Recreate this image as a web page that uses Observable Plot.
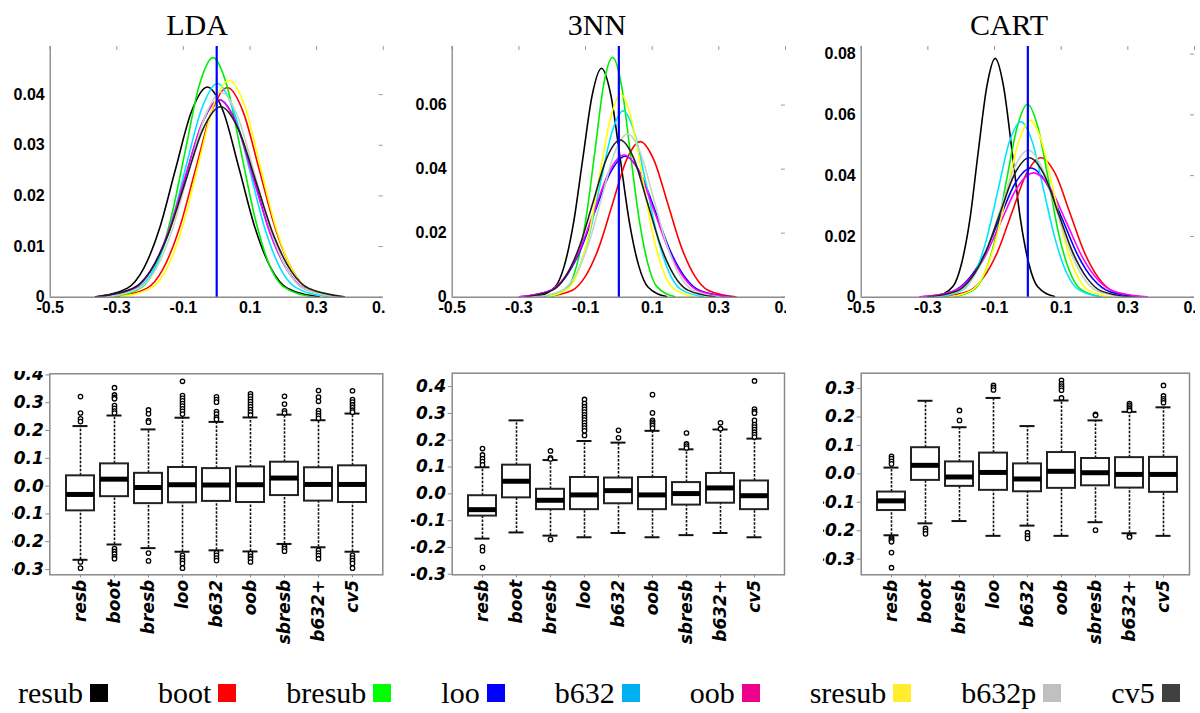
<!DOCTYPE html>
<html><head><meta charset="utf-8">
<script src="https://cdn.jsdelivr.net/npm/d3@7"></script>
<script src="https://cdn.jsdelivr.net/npm/@observablehq/plot@0.6"></script>
<style>
body{margin:0;background:#fff;}
#root{position:relative;width:1200px;height:713px;overflow:hidden;background:#fff;}
.panel{position:absolute;overflow:hidden;}
.title{position:absolute;top:10px;font-family:"Liberation Serif","Times New Roman",serif;font-size:30px;line-height:30px;transform:translateX(-50%);white-space:nowrap;color:#000;}
#legend{position:absolute;left:18px;top:677px;display:flex;align-items:center;font-family:"Liberation Serif","Times New Roman",serif;font-size:30px;line-height:32px;color:#000;}
.item{display:flex;align-items:center;margin-right:50px;}
.sw{width:18px;height:18px;margin-left:7px;display:inline-block;}
</style></head>
<body><div id="root"></div>
<script>
// ---------- categories ----------
const methods = ["LDA","3NN","CART"];
const estimators = ["resub","boot","bresub","loo","b632","oob","sresub","b632p","cv5"];
const boxLabels = ["resb","boot","bresb","loo","b632","oob","sbresb","b632+","cv5"];
const curveColors = ["#000000","#ff0000","#00ee00","#0000ff","#00e5ff","#ff00ff","#ffff00","#c5d5c5","#1e1e1e"];
const legendColors = ["#000000","#ff0000","#00ff00","#0000ff","#00b0f0","#ec008c","#ffed2e","#c0c0c0","#404040"];

// ---------- density curves (x = deviation, y = density) ----------
const ldaX = {
  resub:[-0.364,-0.268,-0.220,-0.172,-0.124,-0.076,-0.028,0.020,0.068,0.116,0.164,0.212,0.308],
  boot:[-0.305,-0.209,-0.161,-0.113,-0.064,-0.016,0.032,0.080,0.128,0.177,0.225,0.273,0.369],
  bresub:[-0.306,-0.222,-0.180,-0.138,-0.095,-0.053,-0.011,0.031,0.073,0.116,0.158,0.200,0.284],
  loo:[-0.350,-0.248,-0.197,-0.145,-0.094,-0.043,0.008,0.059,0.110,0.161,0.213,0.264,0.366],
  b632:[-0.329,-0.234,-0.187,-0.140,-0.093,-0.045,0.002,0.049,0.097,0.144,0.191,0.238,0.333],
  oob:[-0.351,-0.249,-0.198,-0.146,-0.095,-0.044,0.007,0.058,0.109,0.160,0.212,0.263,0.365],
  sresub:[-0.289,-0.196,-0.149,-0.103,-0.056,-0.010,0.037,0.084,0.130,0.177,0.223,0.270,0.363],
  b632p:[-0.331,-0.232,-0.183,-0.134,-0.085,-0.035,0.014,0.063,0.113,0.162,0.211,0.260,0.359],
  cv5:[-0.359,-0.253,-0.200,-0.147,-0.094,-0.041,0.012,0.065,0.118,0.171,0.224,0.277,0.383]
};
const ldaY = {
  resub:[0.0001,0.0018,0.0056,0.0135,0.0252,0.0366,0.0415,0.0366,0.0252,0.0135,0.0056,0.0018,0.0001],
  boot:[0.0001,0.0018,0.0056,0.0134,0.0251,0.0365,0.0414,0.0365,0.0251,0.0134,0.0056,0.0018,0.0001],
  bresub:[0.0001,0.0021,0.0064,0.0154,0.0287,0.0417,0.0473,0.0417,0.0287,0.0154,0.0064,0.0021,0.0001],
  loo:[0.0001,0.0017,0.0053,0.0127,0.0237,0.0344,0.0390,0.0344,0.0237,0.0127,0.0053,0.0017,0.0001],
  b632:[0.0001,0.0019,0.0057,0.0137,0.0256,0.0372,0.0422,0.0372,0.0256,0.0137,0.0057,0.0019,0.0001],
  oob:[0.0001,0.0017,0.0053,0.0127,0.0237,0.0344,0.0390,0.0344,0.0237,0.0127,0.0053,0.0017,0.0001],
  sresub:[0.0001,0.0019,0.0058,0.0139,0.0260,0.0378,0.0428,0.0378,0.0260,0.0139,0.0058,0.0019,0.0001],
  b632p:[0.0001,0.0018,0.0055,0.0132,0.0246,0.0357,0.0405,0.0357,0.0246,0.0132,0.0055,0.0018,0.0001],
  cv5:[0.0001,0.0017,0.0051,0.0122,0.0228,0.0332,0.0376,0.0332,0.0228,0.0122,0.0051,0.0017,0.0001]
};
const nnX = {
  resub:[-0.247,-0.192,-0.164,-0.136,-0.108,-0.080,-0.052,-0.024,0.004,0.032,0.060,0.088,0.143],
  boot:[-0.223,-0.141,-0.100,-0.059,-0.018,0.023,0.064,0.105,0.146,0.187,0.228,0.269,0.351],
  bresub:[-0.205,-0.152,-0.126,-0.099,-0.072,-0.046,-0.019,0.008,0.034,0.061,0.088,0.114,0.167],
  loo:[-0.298,-0.208,-0.162,-0.117,-0.072,-0.026,0.019,0.064,0.110,0.155,0.200,0.246,0.336],
  b632:[-0.227,-0.158,-0.124,-0.090,-0.056,-0.021,0.013,0.047,0.082,0.116,0.150,0.184,0.253],
  oob:[-0.298,-0.209,-0.164,-0.119,-0.074,-0.029,0.016,0.061,0.106,0.151,0.196,0.241,0.330],
  sresub:[-0.214,-0.151,-0.120,-0.088,-0.057,-0.025,0.006,0.037,0.069,0.100,0.132,0.163,0.226],
  b632p:[-0.248,-0.170,-0.130,-0.091,-0.052,-0.013,0.026,0.065,0.104,0.143,0.182,0.222,0.300],
  cv5:[-0.280,-0.199,-0.159,-0.118,-0.077,-0.037,0.004,0.045,0.085,0.126,0.167,0.207,0.288]
};
const nnY = {
  resub:[0.0002,0.0031,0.0097,0.0232,0.0434,0.0631,0.0715,0.0631,0.0434,0.0232,0.0097,0.0031,0.0002],
  boot:[0.0001,0.0021,0.0066,0.0158,0.0295,0.0429,0.0486,0.0429,0.0295,0.0158,0.0066,0.0021,0.0001],
  bresub:[0.0002,0.0033,0.0101,0.0243,0.0454,0.0661,0.0749,0.0661,0.0454,0.0243,0.0101,0.0033,0.0002],
  loo:[0.0001,0.0019,0.0060,0.0143,0.0267,0.0388,0.0440,0.0388,0.0267,0.0143,0.0060,0.0019,0.0001],
  b632:[0.0001,0.0026,0.0079,0.0189,0.0353,0.0514,0.0582,0.0514,0.0353,0.0189,0.0079,0.0026,0.0001],
  oob:[0.0001,0.0019,0.0060,0.0144,0.0269,0.0392,0.0444,0.0392,0.0269,0.0144,0.0060,0.0019,0.0001],
  sresub:[0.0001,0.0028,0.0086,0.0206,0.0385,0.0560,0.0634,0.0560,0.0385,0.0206,0.0086,0.0028,0.0001],
  b632p:[0.0001,0.0022,0.0069,0.0166,0.0309,0.0450,0.0510,0.0450,0.0309,0.0166,0.0069,0.0022,0.0001],
  cv5:[0.0001,0.0022,0.0066,0.0159,0.0298,0.0433,0.0491,0.0433,0.0298,0.0159,0.0066,0.0022,0.0001]
};
const cartX = {
  resub:[-0.276,-0.225,-0.200,-0.174,-0.149,-0.123,-0.098,-0.073,-0.047,-0.022,0.004,0.029,0.080],
  boot:[-0.265,-0.178,-0.135,-0.091,-0.048,-0.005,0.039,0.083,0.126,0.169,0.213,0.256,0.343],
  bresub:[-0.221,-0.158,-0.127,-0.095,-0.064,-0.032,-0.001,0.030,0.062,0.093,0.125,0.156,0.219],
  loo:[-0.320,-0.226,-0.179,-0.132,-0.085,-0.038,0.009,0.056,0.103,0.150,0.197,0.244,0.338],
  b632:[-0.263,-0.194,-0.159,-0.125,-0.090,-0.056,-0.021,0.014,0.048,0.083,0.117,0.152,0.221],
  oob:[-0.324,-0.227,-0.178,-0.129,-0.081,-0.032,0.017,0.066,0.115,0.163,0.212,0.261,0.358],
  sresub:[-0.233,-0.164,-0.130,-0.096,-0.062,-0.027,0.007,0.041,0.076,0.110,0.144,0.178,0.247],
  b632p:[-0.287,-0.205,-0.164,-0.123,-0.081,-0.040,0.001,0.042,0.083,0.125,0.166,0.207,0.289],
  cv5:[-0.300,-0.213,-0.170,-0.126,-0.083,-0.040,0.004,0.048,0.091,0.134,0.178,0.221,0.308]
};
const cartY = {
  resub:[0.0002,0.0035,0.0106,0.0255,0.0477,0.0694,0.0786,0.0694,0.0477,0.0255,0.0106,0.0035,0.0002],
  boot:[0.0001,0.0020,0.0062,0.0149,0.0278,0.0405,0.0459,0.0405,0.0278,0.0149,0.0062,0.0020,0.0001],
  bresub:[0.0001,0.0028,0.0086,0.0206,0.0385,0.0560,0.0635,0.0560,0.0385,0.0206,0.0086,0.0028,0.0001],
  loo:[0.0001,0.0019,0.0058,0.0138,0.0258,0.0375,0.0425,0.0375,0.0258,0.0138,0.0058,0.0019,0.0001],
  b632:[0.0001,0.0025,0.0078,0.0187,0.0350,0.0509,0.0577,0.0509,0.0350,0.0187,0.0078,0.0025,0.0001],
  oob:[0.0001,0.0018,0.0055,0.0133,0.0248,0.0361,0.0409,0.0361,0.0248,0.0133,0.0055,0.0018,0.0001],
  sresub:[0.0001,0.0026,0.0079,0.0189,0.0353,0.0514,0.0582,0.0514,0.0353,0.0189,0.0079,0.0026,0.0001],
  b632p:[0.0001,0.0021,0.0065,0.0157,0.0294,0.0427,0.0484,0.0427,0.0294,0.0157,0.0065,0.0021,0.0001],
  cv5:[0.0001,0.0020,0.0062,0.0149,0.0278,0.0405,0.0459,0.0405,0.0278,0.0149,0.0062,0.0020,0.0001]
};
const densXTicks = [-0.5,-0.3,-0.1,0.1,0.3,0.5];
const ldaYTicks = [0,0.01,0.02,0.03,0.04];
const nnYTicks = [0,0.02,0.04,0.06];
const cartYTicks = [0,0.02,0.04,0.06,0.08];
const trueLine = [0];

// ---------- box plot summaries (order = boxLabels) ----------
const ldaLo  = [-0.265,-0.210,-0.223,-0.236,-0.231,-0.235,-0.208,-0.220,-0.236];
const ldaQ1  = [-0.089,-0.038,-0.063,-0.060,-0.055,-0.059,-0.034,-0.054,-0.059];
const ldaMed = [-0.030,0.025,-0.005,0.005,0.004,0.005,0.029,0.006,0.006];
const ldaQ3  = [0.037,0.080,0.046,0.067,0.063,0.069,0.086,0.066,0.073];
const ldaHi  = [0.216,0.254,0.204,0.246,0.231,0.247,0.257,0.237,0.261];
const ldaOut = [
  [0.322,0.263,0.242,0.232,-0.273,-0.295],
  [0.354,0.328,0.319,0.314,0.290,0.280,0.270,0.263,-0.225,-0.235,-0.244,-0.254,-0.261],
  [0.274,0.260,0.236,0.230,-0.241,-0.269],
  [0.377,0.326,0.316,0.307,0.297,0.288,0.278,0.269,0.259,-0.249,-0.259,-0.268,-0.278,-0.295],
  [0.321,0.311,0.302,0.268,0.259,0.247,0.240,-0.240,-0.249,-0.259,-0.268],
  [0.332,0.323,0.313,0.304,0.294,0.285,0.275,0.266,0.256,-0.243,-0.253,-0.262,-0.273],
  [0.323,0.295,0.271,0.263,-0.217,-0.225,-0.234],
  [0.344,0.320,0.305,0.272,0.262,0.253,0.244,-0.231,-0.241,-0.250,-0.261],
  [0.343,0.311,0.302,0.292,0.283,0.273,0.266,-0.249,-0.259,-0.268,-0.278,-0.295]
];
const nnLo  = [-0.167,-0.144,-0.156,-0.162,-0.146,-0.162,-0.154,-0.146,-0.162];
const nnQ1  = [-0.083,-0.015,-0.059,-0.059,-0.037,-0.059,-0.042,-0.035,-0.059];
const nnMed = [-0.059,0.047,-0.024,-0.004,0.012,-0.004,0.001,0.022,-0.007];
const nnQ3  = [-0.007,0.107,0.017,0.061,0.059,0.061,0.042,0.076,0.048];
const nnHi  = [0.099,0.274,0.126,0.197,0.191,0.235,0.166,0.240,0.206];
const nnOut = [
  [0.169,0.145,0.131,0.120,0.108,-0.198,-0.212,-0.275],
  [],
  [0.160,0.134,0.130,-0.170],
  [0.352,0.337,0.325,0.315,0.305,0.295,0.285,0.275,0.265,0.255,0.245,0.235,0.218],
  [0.237,0.209],
  [0.370,0.302,0.274,0.268,0.261,0.255,0.245],
  [0.227,0.186,0.178,0.171],
  [0.265,0.243],
  [0.421,0.316,0.307,0.301,0.274,0.258,0.249,0.240,0.230,0.221,0.212]
];
const cartLo  = [-0.216,-0.174,-0.166,-0.218,-0.182,-0.218,-0.170,-0.209,-0.218];
const cartQ1  = [-0.129,-0.023,-0.044,-0.058,-0.063,-0.051,-0.042,-0.050,-0.065];
const cartMed = [-0.095,0.030,-0.011,0.005,-0.018,0.009,0.004,-0.002,-0.002];
const cartQ3  = [-0.064,0.092,0.042,0.073,0.035,0.075,0.054,0.057,0.058];
const cartHi  = [0.022,0.257,0.164,0.267,0.168,0.258,0.188,0.218,0.234];
const cartOut = [
  [0.062,0.054,0.044,0.035,-0.223,-0.229,-0.234,-0.239,-0.277,-0.330],
  [-0.192,-0.201,-0.211],
  [0.223,0.188],
  [0.311,0.303,0.295],
  [-0.207,-0.218,-0.227],
  [0.329,0.317,0.309,0.302,0.294,0.267],
  [0.209,0.206,-0.198],
  [0.247,0.241,0.235,0.229,0.223,-0.218,-0.222],
  [0.311,0.274,0.264,0.257,0.250]
];
const ldaBoxTicks = [-0.3,-0.2,-0.1,0.0,0.1,0.2,0.3,0.4];
const nnBoxTicks = [-0.3,-0.2,-0.1,0.0,0.1,0.2,0.3,0.4];
const cartBoxTicks = [-0.3,-0.2,-0.1,0.0,0.1,0.2,0.3];

// ---------- rendering ----------
const root = document.getElementById("root");
function place(node, left, top, w, h) {
  const d = document.createElement("div");
  d.className = "panel";
  d.style.left = left + "px"; d.style.top = top + "px";
  d.style.width = w + "px"; d.style.height = h + "px";
  d.appendChild(node); root.appendChild(d);
}

function densityPanel(X, Y, yMax, yTicks, left, width, marginLeft, marginRight) {
  const rows = [];
  estimators.forEach(e => X[e].forEach((x, j) => rows.push({est: e, x, y: Y[e][j]})));
  const H = 293, mt = 16, mb = 26.3;
  const plotW = width - marginLeft - marginRight, plotH = H - mt - mb;
  const svg = Plot.plot({
    width, height: H, marginLeft, marginRight, marginTop: mt, marginBottom: mb,
    style: {fontFamily: "'Liberation Sans', Arial, sans-serif", fontSize: "16px", color: "#000", background: "white", overflow: "hidden"},
    x: {domain: [-0.5, 0.5], label: null},
    y: {domain: [0, yMax], label: null},
    color: {domain: estimators, range: curveColors},
    marks: [
      Plot.tickX(densXTicks, {x: d => d, stroke: "#9a9a9a", insetBottom: plotH - 4}),
      Plot.tickY(yTicks, {y: d => d, stroke: "#9a9a9a", insetLeft: plotW - 4}),
      Plot.line(rows, {x: "x", y: "y", z: "est", stroke: "est", strokeWidth: 1.6, curve: "monotone-x"}),
      Plot.ruleX([-0.5], {stroke: "#8c8c8c", strokeWidth: 1.4}),
      Plot.ruleY([0], {stroke: "#8c8c8c", strokeWidth: 1.4}),
      Plot.ruleX(trueLine, {stroke: "#0000ff", strokeWidth: 2.2}),
      Plot.axisX({ticks: densXTicks, label: null, tickSize: 0, tickPadding: 4, tickFormat: d => d.toFixed(1), fontSize: 16, fontWeight: "bold"}),
      Plot.axisY({ticks: yTicks, label: null, tickSize: 0, tickPadding: 5.5, tickFormat: d => d === 0 ? "0" : d.toFixed(2), fontSize: 16, fontWeight: "bold"})
    ]
  });
  place(svg, left, 30, width, H);
}

function boxPanel(lo, q1, med, q3, hi, out, yDomain, yTicks, left, width, marginLeft, marginRight, marginTop, pad, align) {
  const rows = boxLabels.map((name, i) => ({name, lo: lo[i], q1: q1[i], med: med[i], q3: q3[i], hi: hi[i]}));
  const outs = [];
  boxLabels.forEach((name, i) => out[i].forEach(v => outs.push({name, v})));
  const H = 284;
  const svg = Plot.plot({
    width, height: H, marginLeft, marginRight, marginTop, marginBottom: H - (574.3 - 371),
    style: {fontFamily: "'DejaVu Sans', sans-serif", fontSize: "17px", color: "#000", background: "white", overflow: "hidden"},
    x: {domain: boxLabels, type: "band", paddingInner: 0.19, paddingOuter: pad, align, label: null},
    y: {domain: yDomain, label: null},
    marks: [
      Plot.frame({stroke: "#8a8a8a", strokeWidth: 1.5, fill: "white"}),
      Plot.ruleX(rows, {x: "name", y1: "lo", y2: "q1", stroke: "#111", strokeWidth: 1.6, strokeDasharray: "2.5,1.5"}),
      Plot.ruleX(rows, {x: "name", y1: "q3", y2: "hi", stroke: "#111", strokeWidth: 1.6, strokeDasharray: "2.5,1.5"}),
      Plot.tickY(rows, {x: "name", y: "lo", stroke: "#111", strokeWidth: 2, insetLeft: 6.5, insetRight: 6.5}),
      Plot.tickY(rows, {x: "name", y: "hi", stroke: "#111", strokeWidth: 2, insetLeft: 6.5, insetRight: 6.5}),
      Plot.barY(rows, {x: "name", y1: "q1", y2: "q3", fill: "white", stroke: "#222", strokeWidth: 2}),
      Plot.tickY(rows, {x: "name", y: "med", stroke: "#000", strokeWidth: 5}),
      Plot.dot(outs, {x: "name", y: "v", r: 2.2, stroke: "#000", strokeWidth: 1.3, fill: "white"}),
      Plot.axisY({ticks: yTicks, label: null, tickSize: 4, tickPadding: 2, stroke: "#8a8a8a", tickFormat: d => d.toFixed(1), fontSize: 17, fontWeight: "bold", fontStyle: "italic"}),
      Plot.axisX({label: null, tickSize: 3, tickPadding: 2, stroke: "#8a8a8a", tickRotate: -90, fontSize: 17, fontWeight: "bold", fontStyle: "italic"})
    ]
  });
  place(svg, left, 371, width, H);
}

densityPanel(ldaX, ldaY, 0.0495, ldaYTicks, 0, 385, 49.7, 2.3);
densityPanel(nnX, nnY, 0.0783, nnYTicks, 395, 391, 56.7, 1);
densityPanel(cartX, cartY, 0.0825, cartYTicks, 800, 395, 60.7, 1);

boxPanel(ldaLo, ldaQ1, ldaMed, ldaQ3, ldaHi, ldaOut, [-0.319, 0.404], ldaBoxTicks, 12, 378, 37.3, 7.7, 2.3, 0.45, 0.5);
boxPanel(nnLo, nnQ1, nnMed, nnQ3, nnHi, nnOut, [-0.302, 0.45], nnBoxTicks, 411, 379, 40.7, 6, 1.7, 0.45, 0.5);
boxPanel(cartLo, cartQ1, cartMed, cartQ3, cartHi, cartOut, [-0.355, 0.354], cartBoxTicks, 823, 377, 37.7, 11, 1.7, 0.395, 0.57);

// titles
const titleCenters = [197, 597, 1009];
methods.forEach((m, i) => {
  const t = document.createElement("div");
  t.className = "title"; t.textContent = m;
  t.style.left = titleCenters[i] + "px";
  root.appendChild(t);
});

// legend
const leg = document.createElement("div");
leg.id = "legend";
estimators.forEach((e, i) => {
  const it = document.createElement("div"); it.className = "item";
  const s = document.createElement("span"); s.textContent = e;
  const sw = document.createElement("span"); sw.className = "sw"; sw.style.background = legendColors[i];
  it.appendChild(s); it.appendChild(sw); leg.appendChild(it);
});
root.appendChild(leg);
</script></body></html>
